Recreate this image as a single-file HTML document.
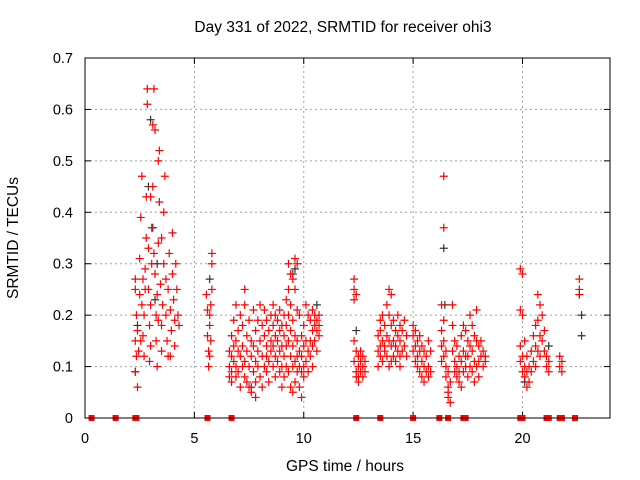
<!DOCTYPE html>
<html><head><meta charset="utf-8"><style>
body{margin:0;background:#fff}
svg{display:block;font-family:"Liberation Sans",sans-serif}
</style></head><body>
<svg id="chart" width="640" height="480">
<text x="343" y="32" font-size="15.5" text-anchor="middle">Day 331 of 2022, SRMTID for receiver ohi3</text>
<text x="345" y="471" font-size="15.5" text-anchor="middle">GPS time / hours</text>
<text x="0" y="0" font-size="15.5" text-anchor="middle" transform="translate(18,238) rotate(-90)">SRMTID / TECUs</text>
<g id="grid"></g><g id="axes"></g><g id="marks"></g>
<rect x="85" y="58" width="525" height="360" fill="none" stroke="#000"/>
</svg>
<script>
const xTicks=[0,5,10,15,20];
const yTicks=[0,0.1,0.2,0.3,0.4,0.5,0.6,0.7];
const yTickLabels=["0","0.1","0.2","0.3","0.4","0.5","0.6","0.7"];
const redRows=[
[2.3,[0.27,0.25,0.15,0.09]],[2.35,[0.2,0.12]],[2.4,[0.06,0.17]],[2.45,[0.13]],[2.5,[0.24,0.31]],[2.55,[0.39,0.15]],[2.6,[0.47,0.22]],[2.65,[0.27,0.16]],[2.7,[0.12,0.2]],[2.75,[0.29,0.25]],[2.8,[0.35,0.43]],[2.85,[0.61,0.64]],[2.9,[0.33,0.25]],[2.95,[0.18,0.11]],[3.0,[0.14,0.22,0.43]],[3.05,[0.3,0.37]],[3.1,[0.45,0.57]],[3.15,[0.64,0.32]],[3.2,[0.56,0.28]],[3.25,[0.2,0.15]],[3.3,[0.1,0.24]],[3.35,[0.34,0.5,0.19]],[3.4,[0.52,0.42]],[3.45,[0.26]],[3.5,[0.18,0.13,0.35]],[3.55,[0.22]],[3.6,[0.3,0.4]],[3.65,[0.47]],[3.7,[0.27,0.2]],[3.75,[0.15]],[3.8,[0.12,0.25]],[3.85,[0.32]],[3.9,[0.21,0.12]],[3.95,[0.17]],[4.0,[0.28,0.36]],[4.05,[0.23]],[4.1,[0.14,0.19]],[4.15,[0.3]],[4.2,[0.25]],[4.25,[0.2]],[4.3,[0.18]],
[5.55,[0.24]],[5.6,[0.21,0.16]],[5.65,[0.13,0.1]],[5.7,[0.2,0.18,0.12]],[5.75,[0.15,0.22]],[5.8,[0.32,0.3,0.25]],
[6.6,[0.13,0.1,0.08]],[6.7,[0.16,0.12,0.09,0.07]],[6.8,[0.14,0.11,0.19]],[6.9,[0.1,0.08,0.22,0.15]],[7.0,[0.13,0.17,0.09]],[7.1,[0.2,0.12,0.06]],[7.2,[0.18,0.14,0.1]],[7.3,[0.22,0.25,0.11,0.08]],[7.4,[0.16,0.13,0.07]],[7.5,[0.19,0.1,0.06]],[7.6,[0.15,0.12,0.05]],[7.7,[0.21,0.09,0.14]],[7.8,[0.17,0.11,0.07,0.04]],[7.9,[0.13,0.19,0.1]],[8.0,[0.22,0.15,0.08]],[8.1,[0.12,0.18,0.06]],[8.2,[0.16,0.1,0.21]],[8.3,[0.14,0.09,0.19,0.12]],[8.4,[0.17,0.11,0.07]],[8.5,[0.2,0.13,0.15]],[8.6,[0.18,0.1,0.14,0.22]],[8.7,[0.16,0.12,0.08,0.2]],[8.8,[0.19,0.15,0.11]],[8.9,[0.21,0.13,0.09,0.17]],[9.0,[0.18,0.14,0.1,0.06]],[9.1,[0.2,0.16,0.12,0.08]],[9.2,[0.23,0.18,0.14,0.1]],[9.3,[0.3,0.25,0.2,0.15,0.09]],[9.4,[0.28,0.22,0.17,0.12,0.06]],[9.5,[0.27,0.19,0.14,0.1,0.05]],[9.6,[0.31,0.25,0.16,0.11,0.07]],[9.7,[0.3,0.21,0.15,0.12,0.09]],[9.8,[0.2,0.13,0.1,0.06]],[9.9,[0.16,0.12,0.09,0.04]],[10.0,[0.18,0.14,0.1,0.08]],[10.1,[0.22,0.15,0.11]],[10.2,[0.2,0.13,0.09]],[10.3,[0.19,0.15,0.12]],[10.4,[0.21,0.17,0.1,0.14]],[10.5,[0.2,0.18,0.15]],[10.6,[0.19,0.17,0.13]],[10.7,[0.2,0.18,0.16]],
[12.3,[0.27,0.25,0.23,0.15,0.11]],[12.4,[0.24,0.13,0.09,0.08]],[12.5,[0.12,0.1,0.08,0.07]],[12.6,[0.11,0.09,0.13]],[12.7,[0.1,0.08,0.12]],[12.8,[0.09,0.11]],
[13.4,[0.16,0.13,0.1]],[13.5,[0.17,0.14,0.12,0.19]],[13.6,[0.2,0.15,0.11]],[13.7,[0.18,0.14,0.13]],[13.8,[0.22,0.16,0.12]],[13.9,[0.25,0.2,0.15,0.1]],[14.0,[0.24,0.18,0.14,0.11]],[14.1,[0.19,0.15,0.12]],[14.2,[0.17,0.14,0.11]],[14.3,[0.2,0.16,0.13]],[14.4,[0.18,0.15,0.12,0.1]],[14.5,[0.17,0.13]],[14.6,[0.19,0.14]],[14.7,[0.16,0.12]],
[15.0,[0.18,0.16,0.13]],[15.1,[0.17,0.14,0.11]],[15.2,[0.15,0.12,0.1]],[15.3,[0.16,0.13,0.09]],[15.4,[0.14,0.11,0.08]],[15.5,[0.13,0.1,0.07]],[15.6,[0.12,0.09]],[15.7,[0.15,0.1,0.08]],[15.8,[0.13,0.09]],
[16.3,[0.22,0.17,0.14,0.11]],[16.4,[0.47,0.37,0.19,0.15,0.12]],[16.5,[0.13,0.1,0.08]],[16.6,[0.06,0.04,0.05,0.09]],[16.7,[0.07,0.03]],[16.8,[0.22,0.18,0.13]],[16.9,[0.15,0.11,0.09]],[17.0,[0.14,0.1,0.08]],[17.1,[0.12,0.09,0.07]],[17.2,[0.16,0.11,0.06]],[17.3,[0.18,0.13,0.09]],[17.4,[0.17,0.12,0.1]],[17.5,[0.15,0.12,0.08]],[17.6,[0.2,0.14,0.1]],[17.7,[0.18,0.13,0.09]],[17.8,[0.16,0.11,0.07]],[17.9,[0.21,0.15,0.1]],[18.0,[0.14,0.11,0.08]],[18.1,[0.15,0.12]],[18.2,[0.13,0.1]],[18.3,[0.12,0.11]],
[19.9,[0.29,0.21,0.14,0.11]],[20.0,[0.28,0.2,0.12,0.09]],[20.1,[0.15,0.1,0.08]],[20.2,[0.12,0.09,0.06]],[20.3,[0.1,0.07]],[20.4,[0.13,0.09]],[20.5,[0.16,0.11]],[20.6,[0.18,0.14,0.1]],[20.7,[0.24,0.19,0.13]],[20.8,[0.22,0.16,0.12]],[20.9,[0.2,0.15]],[21.0,[0.17,0.13]],[21.1,[0.12,0.1]],[21.2,[0.11,0.09]],
[21.7,[0.12,0.1]],[21.8,[0.11,0.09]],[22.6,[0.27,0.25,0.24]]
];
const grayHours=[2.3,2.4,2.9,3.0,3.1,3.2,3.3,5.7,7.6,9.5,9.6,10.6,12.4,16.4,16.45,20.1,21.2,22.6,22.7,22.7];
const grayValues=[0.09,0.18,0.45,0.58,0.37,0.23,0.3,0.27,0.06,0.28,0.29,0.22,0.17,0.33,0.22,0.07,0.14,0.24,0.2,0.16];
const zeroHours=[0.3,1.4,2.3,2.35,5.6,6.7,12.4,13.5,15.0,16.2,16.6,17.3,17.4,19.9,20.0,21.1,21.2,21.7,21.8,22.4];

const X0=85,X1=610,Y0=418,Y1=58;
function xs(h){return X0+h*(X1-X0)/24;}
function ys(v){return Y0-v*(Y0-Y1)/0.7;}
const NS="http://www.w3.org/2000/svg";
function mk(t,a,parent){const e=document.createElementNS(NS,t);for(const k in a)e.setAttribute(k,a[k]);parent.appendChild(e);return e;}
const grid=document.getElementById('grid'),axes=document.getElementById('axes'),marks=document.getElementById('marks');
xTicks.forEach((t,i)=>{
  const x=xs(t);
  if(t>0){const g=mk('line',{x1:x,x2:x,y1:Y0,y2:Y1,stroke:'#a0a0a0','stroke-dasharray':'2,3'},grid);
  
  }
  const tk=mk('line',{x1:x,x2:x,y1:Y0,y2:Y0-6,stroke:'#000'},axes);
  
  
  const tk2=mk('line',{x1:x,x2:x,y1:Y1,y2:Y1+6,stroke:'#000'},axes);
  
  
  const l=mk('text',{x:x,y:443,'font-size':14.5,'text-anchor':'middle'},axes);l.textContent=String(t);
  
  
});
yTicks.forEach((t,i)=>{
  const y=ys(t);
  if(t>0&&t<0.7){const g=mk('line',{x1:X0,x2:X1,y1:y,y2:y,stroke:'#a0a0a0','stroke-dasharray':'2,3'},grid);
  
  }
  const tk=mk('line',{x1:X0,x2:X0+6,y1:y,y2:y,stroke:'#000'},axes);
  
  
  const tk2=mk('line',{x1:X1,x2:X1-6,y1:y,y2:y,stroke:'#000'},axes);
  
  
  const l=mk('text',{x:X0-12,y:y+5,'font-size':14.5,'text-anchor':'end'},axes);l.textContent=yTickLabels[i];
  
  
});
function plus(h,v,color,name){
  const x=xs(h),y=ys(v);
  const p=mk('path',{d:`M${x-4},${y}H${x+4}M${x},${y-4}V${y+4}`,stroke:color,'stroke-width':1.2,fill:'none'},marks);
  
  
}
grayHours.forEach((h,i)=>plus(h,grayValues[i],'#333','gray-point'));
redRows.forEach(r=>r[1].forEach(v=>plus(r[0],v,'#ff0000','red-point')));
zeroHours.forEach(h=>{
  const r=mk('rect',{x:xs(h)-3,y:Y0-3,width:6,height:6,fill:'#ff0000'},marks);
  
  
});
</script>
</body></html>
